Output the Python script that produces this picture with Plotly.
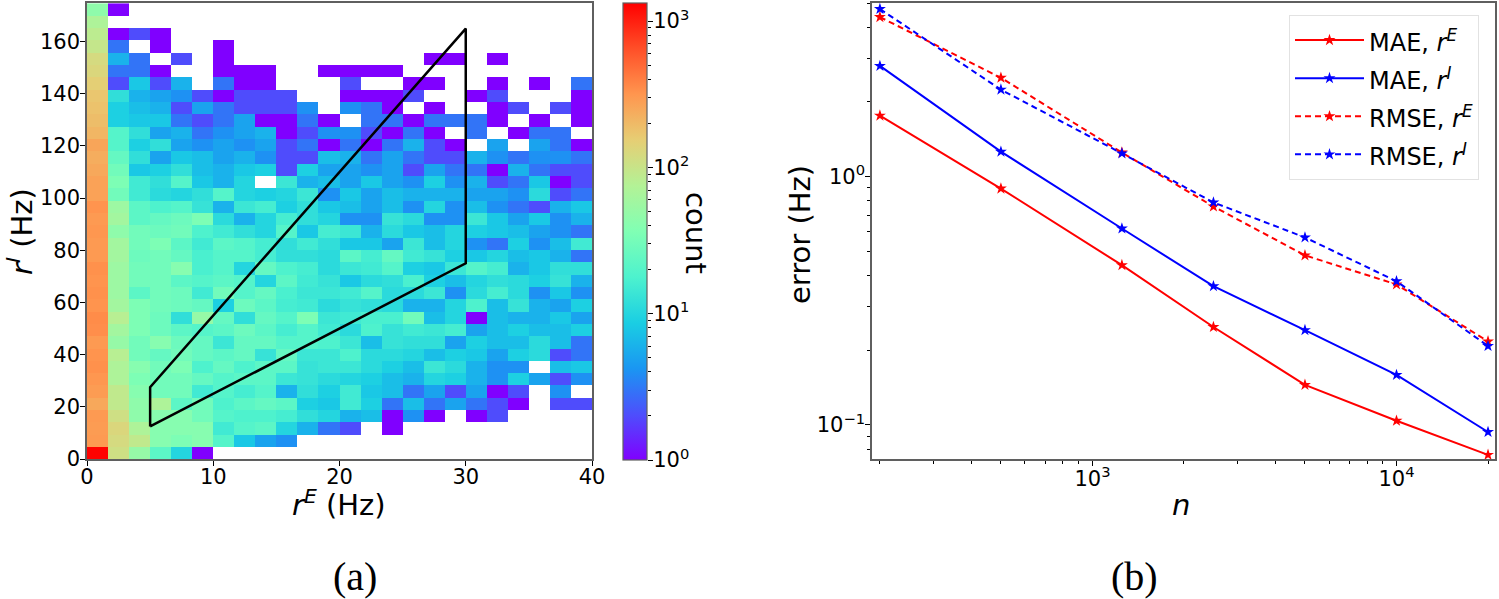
import numpy as np
import plotly.graph_objects as go

W, H = 1499, 599

# --- panel (a) data ---
bin_dx = 40 / 24
bin_dy = 4.72
counts = [
    [45, 1, 0, 0, 0, 0, 0, 0, 0, 0, 0, 0, 0, 0, 0, 0, 0, 0, 0, 0, 0, 0, 0, 0],
    [70, 0, 0, 0, 0, 0, 0, 0, 0, 0, 0, 0, 0, 0, 0, 0, 0, 0, 0, 0, 0, 0, 0, 0],
    [85, 1, 2, 1, 0, 0, 0, 0, 0, 0, 0, 0, 0, 0, 0, 0, 0, 0, 0, 0, 0, 0, 0, 0],
    [95, 3, 0, 1, 0, 0, 1, 0, 0, 0, 0, 0, 0, 0, 0, 0, 0, 0, 0, 0, 0, 0, 0, 0],
    [120, 6, 3, 0, 2, 0, 1, 0, 0, 0, 0, 0, 0, 0, 0, 0, 1, 1, 0, 1, 0, 0, 0, 0],
    [130, 3, 3, 1, 0, 0, 1, 1, 1, 0, 0, 1, 1, 1, 1, 0, 0, 0, 0, 0, 0, 0, 0, 0],
    [150, 2, 8, 2, 6, 0, 3, 1, 1, 0, 0, 0, 2, 0, 0, 1, 1, 0, 0, 1, 0, 1, 0, 3],
    [170, 12, 6, 5, 4, 2, 1, 2, 2, 2, 0, 0, 1, 1, 1, 2, 0, 0, 1, 2, 0, 0, 0, 1],
    [180, 9, 7, 6, 2, 5, 3, 2, 2, 2, 4, 0, 4, 3, 1, 0, 1, 0, 0, 1, 2, 0, 2, 1],
    [190, 9, 8, 8, 3, 2, 3, 5, 1, 1, 3, 1, 0, 3, 3, 1, 3, 3, 3, 1, 0, 1, 0, 1],
    [210, 20, 12, 5, 6, 3, 4, 5, 6, 1, 2, 4, 4, 2, 1, 3, 1, 0, 3, 0, 1, 3, 3, 0],
    [260, 20, 9, 12, 5, 4, 5, 4, 5, 2, 3, 1, 3, 1, 3, 6, 2, 1, 0, 5, 0, 5, 3, 1],
    [235, 25, 12, 5, 8, 7, 5, 6, 4, 2, 2, 7, 6, 3, 5, 3, 2, 2, 6, 4, 3, 4, 4, 3],
    [250, 30, 8, 9, 12, 7, 6, 8, 9, 2, 9, 5, 5, 4, 5, 2, 5, 3, 3, 1, 6, 3, 2, 2],
    [270, 35, 15, 12, 20, 8, 6, 10, 0, 14, 6, 7, 5, 8, 5, 4, 9, 4, 6, 2, 3, 8, 1, 2],
    [270, 30, 15, 11, 10, 12, 20, 10, 9, 10, 14, 4, 8, 5, 7, 6, 6, 6, 5, 5, 4, 11, 2, 3],
    [320, 55, 22, 18, 20, 13, 6, 14, 16, 9, 12, 8, 7, 5, 7, 4, 10, 4, 7, 4, 3, 2, 6, 8],
    [300, 60, 22, 25, 28, 35, 11, 6, 10, 16, 12, 10, 4, 4, 13, 11, 4, 4, 14, 8, 5, 8, 4, 6],
    [310, 45, 30, 28, 30, 18, 15, 12, 10, 20, 8, 16, 14, 6, 11, 8, 7, 10, 9, 8, 7, 5, 4, 3],
    [300, 60, 30, 35, 22, 15, 22, 20, 16, 12, 15, 12, 8, 8, 5, 14, 7, 10, 4, 3, 9, 4, 7, 15],
    [300, 60, 28, 30, 25, 17, 20, 20, 16, 12, 12, 11, 22, 16, 25, 15, 13, 9, 8, 10, 7, 8, 6, 3],
    [330, 55, 30, 30, 40, 17, 20, 10, 25, 18, 16, 11, 14, 15, 20, 9, 8, 14, 20, 16, 6, 8, 12, 12],
    [320, 55, 30, 30, 22, 20, 22, 20, 10, 22, 15, 13, 8, 11, 12, 17, 9, 7, 10, 12, 11, 9, 13, 6],
    [330, 55, 22, 30, 28, 15, 30, 20, 25, 17, 14, 14, 15, 20, 11, 11, 14, 4, 11, 16, 11, 4, 8, 4],
    [320, 60, 35, 30, 28, 25, 9, 28, 22, 16, 15, 11, 13, 12, 11, 6, 6, 10, 18, 7, 13, 6, 5, 9],
    [350, 80, 35, 28, 12, 50, 25, 12, 25, 20, 35, 14, 15, 17, 17, 30, 7, 10, 1, 7, 6, 6, 8, 5],
    [340, 60, 35, 28, 22, 20, 22, 28, 22, 16, 20, 15, 11, 18, 13, 15, 14, 16, 5, 7, 9, 7, 7, 9],
    [300, 50, 30, 40, 28, 25, 14, 25, 25, 20, 20, 18, 14, 7, 13, 12, 12, 5, 9, 7, 7, 11, 7, 3],
    [320, 80, 30, 25, 30, 25, 22, 25, 13, 25, 14, 14, 18, 11, 11, 10, 7, 9, 8, 5, 9, 11, 2, 3],
    [330, 70, 40, 30, 35, 18, 25, 18, 22, 22, 13, 14, 14, 11, 9, 7, 14, 11, 6, 4, 4, 0, 7, 8],
    [310, 70, 35, 30, 30, 25, 20, 22, 22, 14, 13, 11, 10, 9, 7, 6, 10, 9, 6, 4, 9, 5, 2, 4],
    [290, 90, 40, 30, 30, 15, 20, 16, 20, 6, 12, 9, 15, 8, 7, 3, 5, 2, 5, 1, 2, 0, 4, 0],
    [250, 90, 45, 70, 22, 30, 18, 22, 25, 22, 9, 8, 15, 9, 3, 7, 3, 5, 3, 2, 1, 0, 2, 2],
    [300, 110, 45, 40, 40, 30, 20, 18, 18, 16, 12, 10, 6, 7, 1, 4, 1, 0, 1, 2, 0, 0, 0, 0],
    [290, 130, 70, 40, 40, 40, 15, 20, 22, 10, 6, 3, 2, 0, 1, 0, 0, 0, 0, 0, 0, 0, 0, 0],
    [300, 120, 90, 40, 35, 40, 20, 8, 5, 4, 0, 0, 0, 0, 0, 0, 0, 0, 0, 0, 0, 0, 0, 0],
    [1300, 110, 50, 22, 10, 1, 0, 0, 0, 0, 0, 0, 0, 0, 0, 0, 0, 0, 0, 0, 0, 0, 0, 0],
]
poly_x = [5, 5, 30, 30, 5]
poly_y = [12.5, 27.5, 165, 75, 12.5]
cbar_ticks = [1, 10, 100, 1000]
cbar_labels = ["10<sup>0</sup>", "10<sup>1</sup>", "10<sup>2</sup>", "10<sup>3</sup>"]
rainbow = ["#8000ff", "#4d4ffc", "#1a96f2", "#1acee3", "#4df2ce", "#80ffb4",
           "#b3f296", "#e6ce74", "#ff964f", "#ff4f28", "#ff0000"]

# --- panel (b) data ---
n_values = [200, 500, 1250, 2500, 5000, 10000, 20000]
mae_e = [1.76, 0.895, 0.44, 0.248, 0.145, 0.104, 0.0758]
mae_i = [2.79, 1.26, 0.618, 0.362, 0.241, 0.159, 0.0937]
rmse_e = [4.39, 2.5, 1.25, 0.758, 0.482, 0.368, 0.217]
rmse_i = [4.73, 2.24, 1.24, 0.787, 0.569, 0.379, 0.208]

FONT = "DejaVu Sans"
SPINE = "#5f5f5f"


def px_x(p):
    return p / W


def px_y(p):
    return 1 - p / H


def label(text, x, y, size=29, angle=0, family=FONT):
    return dict(text=text, x=px_x(x), y=px_y(y), xref="paper", yref="paper",
                xanchor="center", yanchor="middle", showarrow=False,
                textangle=angle, font=dict(size=size, family=family))


# rows were read top to bottom, heatmap wants bottom first
grid = np.array(counts[::-1], dtype=float)
z = np.where(grid > 0, np.log10(np.where(grid > 0, grid, 1)), np.nan)
zmax = 3.123

fig = go.Figure()
fig.add_trace(go.Heatmap(
    z=z, x0=bin_dx / 2, dx=bin_dx, y0=bin_dy / 2, dy=bin_dy,
    zmin=0, zmax=zmax, colorscale=rainbow, hoverongaps=False,
    colorbar=dict(
        x=px_x(623), xanchor="left", xpad=0, y=px_y(460), yanchor="bottom", ypad=0,
        len=457 / H, lenmode="fraction", thickness=24, thicknessmode="pixels",
        outlinecolor=SPINE, outlinewidth=1.2, ticks="", showticklabels=False,
    ),
    xaxis="x", yaxis="y",
))
fig.add_trace(go.Scatter(x=poly_x, y=poly_y, mode="lines", showlegend=False,
                         line=dict(color="black", width=2.5), xaxis="x", yaxis="y"))

# ticks of the colour bar, it has no minor ticks of its own
fig.add_trace(go.Scatter(x=[None], y=[None], mode="markers", showlegend=False,
                         hoverinfo="skip", xaxis="x3", yaxis="y3"))

series = [
    ("MAE, <i>r<sup>E</sup></i>", mae_e, "red", "solid"),
    ("MAE, <i>r<sup>I</sup></i>", mae_i, "blue", "solid"),
    ("RMSE, <i>r<sup>E</sup></i>", rmse_e, "red", "dash"),
    ("RMSE, <i>r<sup>I</sup></i>", rmse_i, "blue", "dash"),
]
for name, vals, col, dash in series:
    fig.add_trace(go.Scatter(
        x=n_values, y=vals, mode="lines+markers",
        # legend rows are spaced from the font size, the span keeps the text smaller
        name='<span style="font-size:24px">' + name + "</span>",
        line=dict(color=col, width=2, dash="6px,4px" if dash == "dash" else dash),
        marker=dict(symbol="star", size=9, color=col),
        xaxis="x2", yaxis="y2",
    ))

tick_style = dict(ticks="outside", ticklen=5, tickwidth=1.3, tickcolor="black", automargin=False,
                  tickfont=dict(size=21, family=FONT, color="black"))
frame = dict(showline=True, linecolor=SPINE, linewidth=1.5, mirror=True,
             showgrid=False, zeroline=False)
minor_ticks = dict(ticks="outside", ticklen=3, tickcolor="black", dtick="D1")

fig.update_layout(
    width=W, height=H, autosize=False,
    margin=dict(l=0, r=0, t=0, b=0),
    paper_bgcolor="white", plot_bgcolor="white",
    font=dict(family=FONT, color="black"),
    xaxis=dict(domain=[px_x(87), px_x(592)], range=[0, 40], tickvals=[0, 10, 20, 30, 40],
               ticklabelstandoff=-7, anchor="y", **frame, **tick_style),
    yaxis=dict(domain=[px_y(459), px_y(3)], range=[0, 174.8],
               tickvals=[0, 20, 40, 60, 80, 100, 120, 140, 160],
               ticklabelstandoff=-4, anchor="x", **frame, **tick_style),
    xaxis2=dict(domain=[px_x(872), px_x(1495)], type="log", range=[2.275, 4.324],
                tickvals=[1000, 10000], ticktext=["10<sup>3</sup>", "10<sup>4</sup>"],
                ticklabelstandoff=-5, minor=minor_ticks, anchor="y2", **frame, **tick_style),
    yaxis2=dict(domain=[px_y(459), px_y(3)], type="log", range=[-1.137, 0.699],
                tickvals=[0.1, 1], ticktext=["10<sup>\u22121</sup>", "10<sup>0</sup>"],
                ticklabelstandoff=-4, minor=minor_ticks, anchor="x2", **frame, **tick_style),
    xaxis3=dict(domain=[px_x(623), px_x(647)], visible=False, anchor="y3", automargin=False),
    yaxis3=dict(domain=[px_y(460), px_y(3)], type="log", range=[0, zmax], side="right",
                tickvals=cbar_ticks, ticktext=cbar_labels, showgrid=False, zeroline=False,
                ticklabelstandoff=-4, showline=False, minor=minor_ticks, anchor="x3", **tick_style),
    legend=dict(x=px_x(1289), xanchor="left", y=px_y(15), yanchor="top",
                bgcolor="rgba(255,255,255,0.8)", bordercolor="#e2e2e2", borderwidth=1,
                font=dict(size=27, family=FONT), itemwidth=69, tracegroupgap=0),
    annotations=[
        label("<i>r<sup>E</sup></i> (Hz)", 339, 503),
        label("<i>r<sup>I</sup></i> (Hz)", 20, 232, angle=-90),
        label("<i>n</i>", 1181, 505),
        label("error (Hz)", 800, 235, angle=-90),
        label("count", 696, 233, angle=90),
        label("(a)", 355, 576, size=40, family="Liberation Serif"),
        label("(b)", 1134, 576, size=40, family="Liberation Serif"),
    ],
)

fig.write_html("out.html", config=dict(displayModeBar=False),
               post_script="document.body.style.margin='0';")
